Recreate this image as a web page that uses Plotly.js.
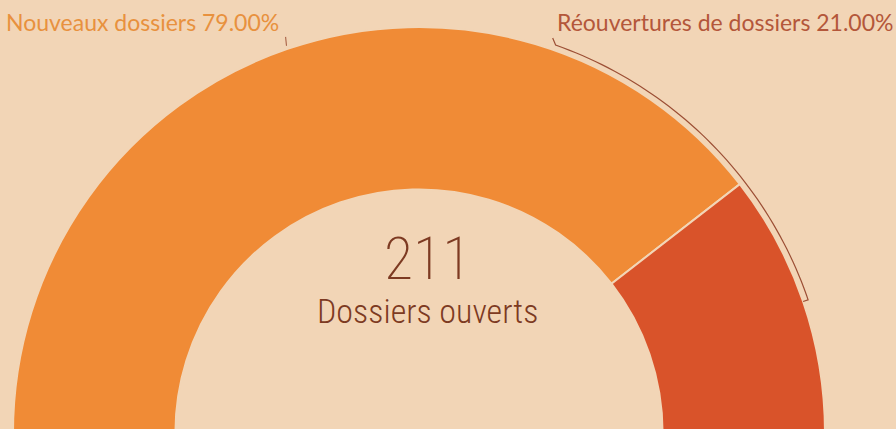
<!DOCTYPE html>
<html>
<head>
<meta charset="utf-8">
<script src="https://cdn.plot.ly/plotly-3.0.1.min.js"></script>
<style>
    html, body { margin: 0; padding: 0; background: #f2d5b6; overflow: hidden; }
    #chart { width: 896px; height: 433px; }
</style>
</head>
<body>
<div id="chart"></div>
<script>
// Opened files split (percent of the total)
const categories = ['Nouveaux dossiers', 'Réouvertures de dossiers'];
const shares = [79, 21];
const sliceColors = ['#f08b36', '#d9532a'];
const labelColors = ['#e8913e', '#b4573a'];
const totalFiles = 211;
const totalLabel = 'Dossiers ouverts';

const BG = '#f2d5b6';
const HOLE = 0.6;     // inner radius / outer radius
const R_MAX = 1.03;   // radial room kept above the ring for the leader lines
const W = 896, H = 433;

// px -> paper helpers for the annotations
const px = x => x / W;
const py = y => 1 - y / H;

// Half disc: first slice starts on the left (180 deg) and runs clockwise
let start = 180;
const thetas = [];
const widths = [];
shares.forEach(s => {
    const span = s / 100 * 180;
    thetas.push(start - span / 2);
    widths.push(span);
    start -= span;
});

const ring = {
    type: 'barpolar',
    theta: thetas,
    width: widths,
    r: shares.map(() => 1 - HOLE),
    base: HOLE,
    marker: { color: sliceColors, line: { color: BG, width: 2 } },
    hoverinfo: 'skip'
};

// Leader for the first slice: short tick from the ring out to its label
const leader1 = {
    type: 'scatterpolar',
    mode: 'lines',
    theta: [thetas[0], thetas[0] - 0.3],
    r: [1.008, R_MAX],
    line: { color: '#a0553a', width: 1 },
    hoverinfo: 'skip'
};

// Leader for the second slice: from its label, follows the ring down to the slice middle
const labelAngle = 70.6;
const arcTheta = [71.3];
const arcR = [1.027];
for (let a = labelAngle; a > thetas[1]; a -= 1) {
    arcTheta.push(a);
    arcR.push(1.013);
}
arcTheta.push(thetas[1], thetas[1]);
arcR.push(1.013, 1.0);

const leader2 = {
    type: 'scatterpolar',
    mode: 'lines',
    theta: arcTheta,
    r: arcR,
    line: { color: '#9c4f35', width: 1.2 },
    hoverinfo: 'skip'
};

const labelFont = { family: 'Lato, "Open Sans", sans-serif', size: 23 };
const centerFont = '"Roboto Condensed", "Liberation Sans Narrow", "DejaVu Sans Condensed", Roboto, sans-serif';

const annotations = [
    {
        text: `${categories[0]} ${shares[0].toFixed(2)}%`,
        x: px(281), y: py(22), xanchor: 'right', yanchor: 'middle',
        font: { ...labelFont, color: labelColors[0] }
    },
    {
        text: `${categories[1]} ${shares[1].toFixed(2)}%`,
        x: px(555), y: py(22), xanchor: 'left', yanchor: 'middle',
        font: { ...labelFont, color: labelColors[1] }
    },
    {
        text: String(totalFiles),
        x: px(427), y: py(258), xanchor: 'center', yanchor: 'middle',
        font: { family: centerFont, size: 60, color: '#7d3a22', weight: 200, stretch: 'ultra-condensed' }
    },
    {
        text: totalLabel,
        x: px(427), y: py(311), xanchor: 'center', yanchor: 'middle',
        font: { family: centerFont, size: 34, color: '#7d3a22', weight: 300, stretch: 'condensed' }
    }
].map(a => ({ ...a, xref: 'paper', yref: 'paper', showarrow: false }));

// Ring centre (419, 433) px, outer radius 406 px
const rPx = 406 * R_MAX;
const layout = {
    width: W,
    height: H,
    margin: { l: 0, r: 0, t: 0, b: 0 },
    paper_bgcolor: BG,
    plot_bgcolor: BG,
    showlegend: false,
    polar: {
        domain: { x: [px(419 - rPx), px(419 + rPx)], y: [0, rPx / H] },
        sector: [0, 180],
        bgcolor: 'rgba(0,0,0,0)',
        bargap: 0,
        radialaxis: { visible: false, range: [0, R_MAX] },
        angularaxis: { visible: false, direction: 'counterclockwise', rotation: 0 }
    },
    annotations: annotations
};

Plotly.newPlot('chart', [ring, leader1, leader2], layout, { displayModeBar: false, staticPlot: true });
</script>
</body>
</html>
